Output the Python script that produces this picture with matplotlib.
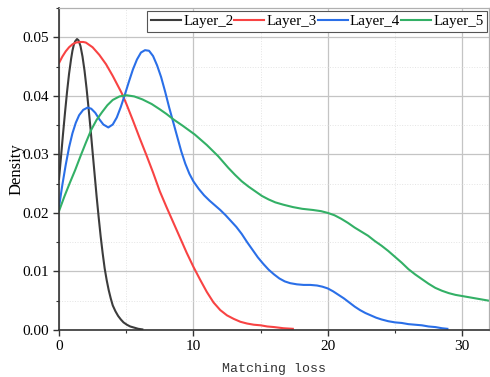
import matplotlib
matplotlib.use('Agg')
import matplotlib.pyplot as plt
from matplotlib.ticker import MultipleLocator, FormatStrFormatter

# values
x2 = [0, 0.15, 0.3, 0.45, 0.6, 0.75, 0.9, 1.0, 1.1, 1.2, 1.34, 1.45, 1.6, 1.75,
      1.9, 2.05, 2.2, 2.35, 2.5, 2.65, 2.8, 2.95, 3.1, 3.25, 3.4, 3.55, 3.7,
      3.85, 4.0, 4.2, 4.4, 4.6, 4.8, 5.05, 5.3, 5.6, 5.9, 6.2]
y2 = [0.0258, 0.0296, 0.0335, 0.0372, 0.0407, 0.0438, 0.0463, 0.0477, 0.0487,
      0.0493, 0.0497, 0.0495, 0.0485, 0.0467, 0.0443, 0.0413, 0.0379, 0.0343,
      0.0304, 0.0266, 0.0228, 0.0193, 0.0160, 0.0131, 0.0105, 0.0085, 0.0068,
      0.0054, 0.0042, 0.0032, 0.0024, 0.0018, 0.0013, 0.0009, 0.0006, 0.0004,
      0.0002, 0.0001]

x3 = [0, 0.25, 0.5, 0.75, 1.0, 1.25, 1.56, 1.8, 2.0, 2.5, 3.0, 3.5, 4.0, 4.66,
      5.0, 5.5, 6.0, 6.5, 7.0, 7.5, 8.0, 8.5, 9.0, 9.5, 10.0, 10.5, 11.0,
      11.5, 12.0, 12.5, 13.0, 13.5, 14.0, 14.5, 15.0, 15.5, 16.0, 16.7, 17.4]
y3 = [0.0456, 0.0467, 0.0476, 0.0483, 0.0488, 0.0491, 0.0492, 0.0492, 0.0491,
      0.0483, 0.0470, 0.0454, 0.0434, 0.0405, 0.0387, 0.0358, 0.0328, 0.0299,
      0.0269, 0.0237, 0.0210, 0.0184, 0.0158, 0.0132, 0.0108, 0.0086, 0.0065,
      0.0047, 0.0034, 0.0025, 0.0019, 0.0014, 0.0011, 0.0009, 0.0008, 0.0006,
      0.0005, 0.0003, 0.0002]

x4 = [0, 0.25, 0.5, 0.75, 1.0, 1.25, 1.5, 1.8, 2.13, 2.4, 2.7, 3.0, 3.3, 3.67,
      4.0, 4.3, 4.6, 4.9, 5.2, 5.5, 5.8, 6.1, 6.4, 6.7, 7.0, 7.3, 7.6, 7.9,
      8.2, 8.5, 8.8, 9.1, 9.4, 9.7, 10.0, 10.4, 10.8, 11.2, 11.6, 12.0, 12.4,
      12.8, 13.2, 13.6, 14.0, 14.4, 14.8, 15.2, 15.6, 16.0, 16.4, 16.8, 17.2,
      17.7, 18.2, 18.7, 19.2, 19.6, 20.0, 20.4, 20.8, 21.2, 21.6, 22.0, 22.4,
      22.8, 23.2, 23.6, 24.0, 24.5, 25.0, 25.5, 26.0, 26.5, 27.0, 27.5, 28.0,
      28.5, 28.9]
y4 = [0.0210, 0.0248, 0.0282, 0.0312, 0.0336, 0.0354, 0.0367, 0.0376, 0.0380,
      0.0378, 0.0371, 0.0360, 0.0351, 0.0346, 0.0351, 0.0363, 0.0381, 0.0402,
      0.0424, 0.0445, 0.0462, 0.0474, 0.0478, 0.0477, 0.0468, 0.0452, 0.0432,
      0.0407, 0.0380, 0.0355, 0.0330, 0.0305, 0.0284, 0.0267, 0.0254, 0.0241,
      0.0230, 0.0221, 0.0213, 0.0205, 0.0196, 0.0186, 0.0176, 0.0164, 0.0150,
      0.0137, 0.0124, 0.0113, 0.0103, 0.0095, 0.0088, 0.0083, 0.0080, 0.0078,
      0.0077, 0.0077, 0.0076, 0.0074, 0.0071, 0.0066, 0.0060, 0.0054, 0.0047,
      0.0040, 0.0034, 0.0029, 0.0025, 0.0021, 0.0018, 0.0015, 0.0013, 0.0012,
      0.0010, 0.0009, 0.0008, 0.0006, 0.0005, 0.0003, 0.0002]

x5 = [0, 0.4, 0.8, 1.2, 1.6, 2.0, 2.4, 2.8, 3.2, 3.6, 4.0, 4.5, 5.03, 5.6, 6.2,
      6.9, 7.5, 8.0, 8.5, 9.2, 10.1, 11.0, 11.84, 12.6, 13.1, 13.6, 14.1, 14.6,
      15.1, 15.6, 16.1, 16.7, 17.4, 18.1, 18.9, 19.5, 20.0, 20.5, 21.0, 21.5,
      22.0, 22.5, 23.0, 23.5, 24.0, 24.5, 25.0, 25.5, 26.0, 26.5, 27.0, 27.5,
      28.0, 28.5, 29.0, 29.5, 30.0, 30.5, 31.0, 31.5, 32.0]
y5 = [0.0203, 0.0228, 0.0251, 0.0273, 0.0297, 0.0320, 0.0342, 0.0359, 0.0372,
      0.0384, 0.0393, 0.0399, 0.0401, 0.0399, 0.0394, 0.0386, 0.0377, 0.0369,
      0.0360, 0.0349, 0.0334, 0.0316, 0.0297, 0.0277, 0.0265, 0.0254, 0.0245,
      0.0237, 0.0229, 0.0223, 0.0218, 0.0214, 0.0210, 0.0207, 0.0205, 0.0203,
      0.0200, 0.0196, 0.0190, 0.0183, 0.0175, 0.0168, 0.0161, 0.0152, 0.0144,
      0.0135, 0.0125, 0.0115, 0.0104, 0.0095, 0.0087, 0.0079, 0.0072, 0.0067,
      0.0063, 0.0060, 0.0058, 0.0056, 0.0054, 0.0052, 0.0050]

series = [('Layer_2', x2, y2, '#3c3c3c'),
          ('Layer_3', x3, y3, '#f84343'),
          ('Layer_4', x4, y4, '#2a6fe8'),
          ('Layer_5', x5, y5, '#33b066')]

serif = ['Liberation Serif', 'DejaVu Serif']

fg = plt.figure(figsize=(4.9, 3.77), dpi=100)
ax = fg.add_axes([0.1204, 0.1247, 0.8776, 0.854])

for name, xs, ys, c in series:
    ax.plot(xs, ys, color=c, lw=1.5, label=name, solid_joinstyle='round')

ax.set_xlim(0, 32)
ax.set_ylim(0, 0.055)
ax.xaxis.set_major_locator(MultipleLocator(10))
ax.xaxis.set_minor_locator(MultipleLocator(5))
ax.yaxis.set_major_locator(MultipleLocator(0.01))
ax.yaxis.set_minor_locator(MultipleLocator(0.005))
ax.yaxis.set_major_formatter(FormatStrFormatter('%.2f'))

ax.grid(which='major', color='#c4c4c4', lw=0.9)
ax.grid(which='minor', color='#e4e4e4', lw=0.7, ls=':')
ax.set_axisbelow(True)

ax.tick_params(which='both', direction='out', colors='#333333')
ax.tick_params(which='major', length=4, width=1, labelsize=11)
ax.tick_params(which='minor', length=2.5, width=0.8)
for lb in ax.get_xticklabels() + ax.get_yticklabels():
    lb.set_family(serif)
    lb.set_color('black')

for s in ['left', 'bottom']:
    ax.spines[s].set_color('#333333')
    ax.spines[s].set_linewidth(1.2)
for s in ['top', 'right']:
    ax.spines[s].set_color('#b0b0b0')
    ax.spines[s].set_linewidth(0.9)

ax.set_xlabel('Matching loss', family=['Liberation Mono', 'DejaVu Sans Mono'],
              fontsize=9.5, color='#333333', labelpad=7)
ax.set_ylabel('Density', family=serif, fontsize=12)
ax.yaxis.set_label_coords(-0.08, 0.5)

lg = ax.legend(loc='upper right', bbox_to_anchor=(0.9955, 0.99), ncol=4,
               prop={'family': serif, 'size': 10.8}, frameon=True,
               fancybox=False, edgecolor='#555555', framealpha=1,
               handlelength=2.0, handletextpad=0.15, columnspacing=0.05,
               borderpad=0.25, borderaxespad=0)
lg.get_frame().set_linewidth(0.8)

fg.savefig('out.png', dpi=100)
